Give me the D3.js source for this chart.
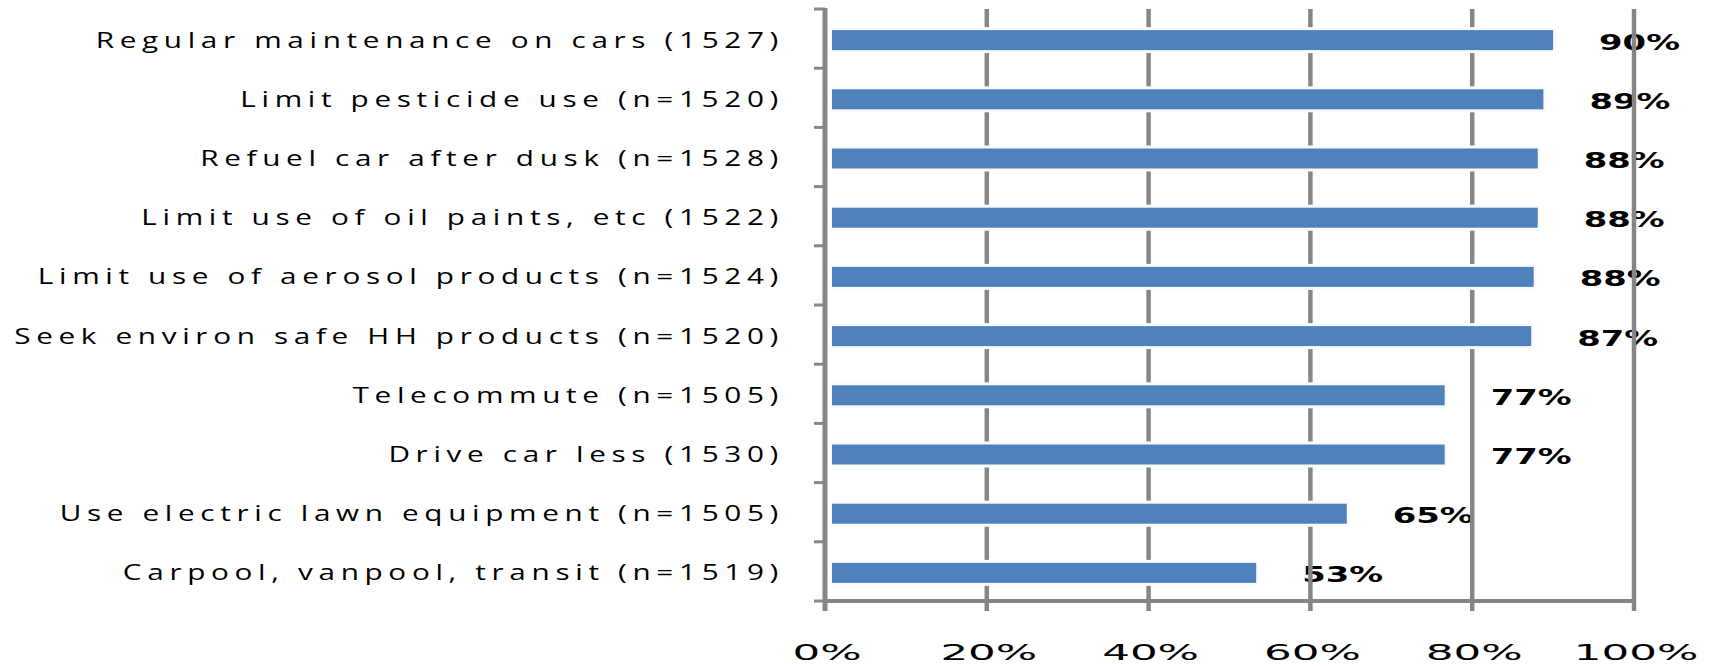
<!DOCTYPE html>
<html>
<head>
<meta charset="utf-8">
<script src="https://cdn.jsdelivr.net/npm/d3@7"></script>
<style>
  body { margin: 0; background: #fff; }
  svg { display: block; }
  .cat { font-family: "Open Sans", sans-serif; font-size: 22px; letter-spacing: 4.2px; fill: #000; }
  .tick-label { font-family: "DejaVu Sans", sans-serif; font-size: 22px; fill: #000; }
  .value { font-family: "DejaVu Sans", sans-serif; font-weight: bold; font-size: 20.5px; fill: #000; }
</style>
</head>
<body>
<svg id="chart"></svg>
<script>
// Chart data
const categories = [
  'Regular maintenance on cars (1527)',
  'Limit pesticide use (n=1520)',
  'Refuel car after dusk (n=1528)',
  'Limit use of oil paints, etc (1522)',
  'Limit use of aerosol products (n=1524)',
  'Seek environ safe HH products (n=1520)',
  'Telecommute (n=1505)',
  'Drive car less (1530)',
  'Use electric lawn equipment (n=1505)',
  'Carpool, vanpool, transit (n=1519)'
];
const values = [0.90, 0.888, 0.881, 0.881, 0.876, 0.873, 0.766, 0.766, 0.645, 0.533];
const xTicks = [0, 0.2, 0.4, 0.6, 0.8, 1.0];

const width = 1725;
const height = 666;
const gridColor = '#868686';
const barColor = '#4F81BD';

const svg = d3.select('#chart')
  .attr('width', width)
  .attr('height', height);

// Scales
const x = d3.scaleLinear().domain([0, 1]).range([825, 1634]);
const y = d3.scaleBand()
  .domain(categories)
  .range([9, 601])
  .paddingInner(0.662)
  .paddingOuter(0.331);

const yBottom = 611;
const fmt = d3.format('.0%');

// Category labels (stretched wide like the original)
svg.append('g')
  .selectAll('text')
  .data(categories)
  .join('text')
  .attr('class', 'cat')
  .attr('text-anchor', 'end')
  .attr('transform', (d) => `translate(784,${y(d) + y.bandwidth() / 2 + 9}) scale(1.35,1)`)
  .text((d) => d);

// X tick labels
svg.append('g')
  .selectAll('text')
  .data(xTicks)
  .join('text')
  .attr('class', 'tick-label')
  .attr('text-anchor', 'middle')
  .attr('transform', (d) => `translate(${x(d) + 2},660) scale(1.98,1)`)
  .text((d) => fmt(d));

// Value labels
svg.append('g')
  .selectAll('text')
  .data(values)
  .join('text')
  .attr('class', 'value')
  .attr('transform', (d, i) => `translate(${x(d) + 46},${y(categories[i]) + y.bandwidth() / 2 + 11}) scale(1.65,1)`)
  .text((d) => fmt(d));

// Vertical gridlines
svg.append('g')
  .selectAll('line')
  .data(xTicks.slice(1))
  .join('line')
  .attr('x1', (d) => x(d))
  .attr('x2', (d) => x(d))
  .attr('y1', y.range()[0])
  .attr('y2', yBottom)
  .attr('stroke', gridColor)
  .attr('stroke-width', 4.5);

// Bars with a light halo that breaks the gridlines
const bars = svg.append('g');
bars.selectAll('rect.halo')
  .data(values)
  .join('rect')
  .attr('class', 'halo')
  .attr('x', x(0) + 4)
  .attr('y', (d, i) => y(categories[i]) + 1.5 - 3)
  .attr('width', (d) => x(d) - x(0) - 1)
  .attr('height', y.bandwidth() + 6)
  .attr('fill', '#fbfbfb');

bars.selectAll('rect.bar')
  .data(values)
  .join('rect')
  .attr('class', 'bar')
  .attr('x', x(0) + 7)
  .attr('y', (d, i) => y(categories[i]) + 1.5)
  .attr('width', (d) => x(d) - x(0) - 7)
  .attr('height', y.bandwidth())
  .attr('fill', barColor);

// Axes
const axes = svg.append('g').attr('stroke', gridColor);

axes.append('line')
  .attr('x1', x(0)).attr('x2', x(0))
  .attr('y1', y.range()[0] - 1).attr('y2', yBottom)
  .attr('stroke-width', 5);

axes.append('line')
  .attr('x1', x(0)).attr('x2', x(1) + 2)
  .attr('y1', y.range()[1]).attr('y2', y.range()[1])
  .attr('stroke-width', 4);

// Y ticks at band boundaries
const yTickPos = d3.range(categories.length + 1).map((i) => y.range()[0] + i * y.step());
axes.selectAll('line.ytick')
  .data(yTickPos)
  .join('line')
  .attr('class', 'ytick')
  .attr('x1', 814).attr('x2', x(0))
  .attr('y1', (d) => d).attr('y2', (d) => d)
  .attr('stroke-width', 3);
</script>
</body>
</html>
